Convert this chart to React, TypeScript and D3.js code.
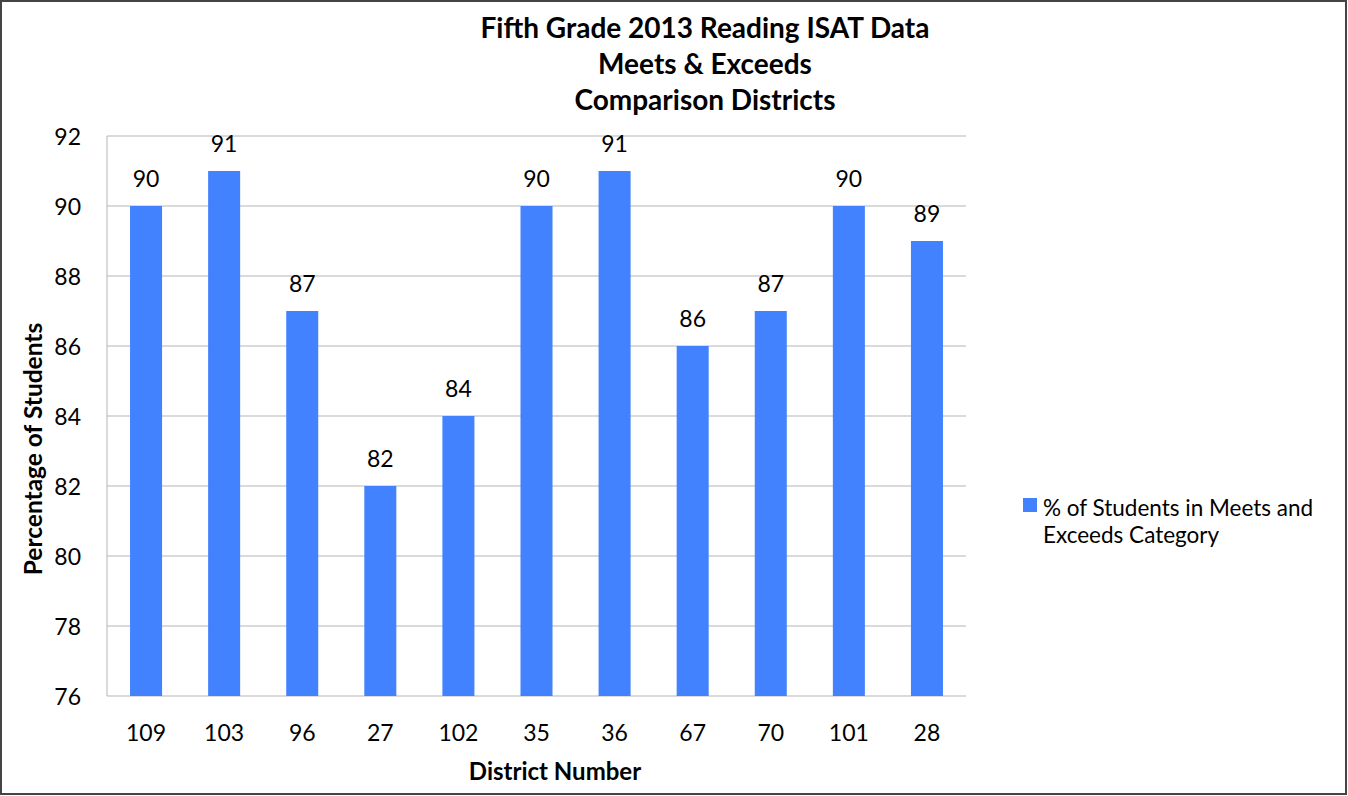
import { useMemo } from "react";
import * as d3 from "d3";

const WIDTH = 1348;
const HEIGHT = 796;
const PLOT = { left: 107, right: 966, top: 136, bottom: 696 };
const FONT = "Lato, 'Open Sans', sans-serif";
const BAR_COLOR = "#4282ff";

const districts = ["109", "103", "96", "27", "102", "35", "36", "67", "70", "101", "28"];
const meetsExceeds = [90, 91, 87, 82, 84, 90, 91, 86, 87, 90, 89];
const yTicks = [76, 78, 80, 82, 84, 86, 88, 90, 92];
const titleLines = ["Fifth Grade 2013 Reading ISAT Data", "Meets & Exceeds", "Comparison Districts"];
const legendLines = ["% of Students in Meets and", "Exceeds Category"];

function BarChart() {
    const x = useMemo(
        () =>
            d3
                .scaleBand<string>()
                .domain(districts)
                .range([PLOT.left, PLOT.right])
                .paddingInner(0.59)
                .paddingOuter(0.295),
        []
    );
    const y = useMemo(() => d3.scaleLinear().domain([76, 92]).range([PLOT.bottom, PLOT.top]), []);

    const bars = districts.map((d, i) => {
        const v = meetsExceeds[i];
        const bx = x(d) ?? 0;
        return (
            <g key={d}>
                <rect x={bx} y={y(v)} width={x.bandwidth()} height={y(76) - y(v)} fill={BAR_COLOR} />
                <text x={bx + x.bandwidth() / 2} y={y(v) - 19} textAnchor="middle" fontSize={23}>
                    {v}
                </text>
                <text x={bx + x.bandwidth() / 2} y={741} textAnchor="middle" fontSize={23}>
                    {d}
                </text>
            </g>
        );
    });

    return (
        <svg
            width={WIDTH}
            height={HEIGHT}
            style={{ position: "absolute", left: 0, top: 0, background: "#fff" }}
            fontFamily={FONT}
            fill="#000"
        >
            <rect x={1} y={1} width={WIDTH - 3} height={HEIGHT - 3} fill="#fff" stroke="#444" strokeWidth={2} />

            {/* gridlines */}
            {yTicks.map((t) => (
                <g key={t}>
                    <line x1={PLOT.left} x2={PLOT.right} y1={y(t)} y2={y(t)} stroke="#b5b5b5" strokeWidth={1} />
                    <text x={81} y={y(t)} textAnchor="end" dominantBaseline="central" fontSize={23}>
                        {t}
                    </text>
                </g>
            ))}
            <line x1={PLOT.left} x2={PLOT.left} y1={PLOT.top} y2={PLOT.bottom} stroke="#b5b5b5" strokeWidth={1} />

            {bars}

            {titleLines.map((l, i) => (
                <text key={l} x={705} y={38 + i * 36} textAnchor="middle" fontSize={28} fontWeight="bold">
                    {l}
                </text>
            ))}

            <text x={555} y={780} textAnchor="middle" fontSize={24} fontWeight="bold">
                District Number
            </text>
            <text
                transform={`translate(42, 449) rotate(-90)`}
                textAnchor="middle"
                fontSize={24.5}
                fontWeight="bold"
            >
                Percentage of Students
            </text>

            <rect x={1023} y={498} width={14} height={14} fill={BAR_COLOR} />
            {legendLines.map((l, i) => (
                <text key={l} x={1043} y={516 + i * 27} fontSize={22.5}>
                    {l}
                </text>
            ))}
        </svg>
    );
}

export default function App() {
    return <BarChart />;
}
